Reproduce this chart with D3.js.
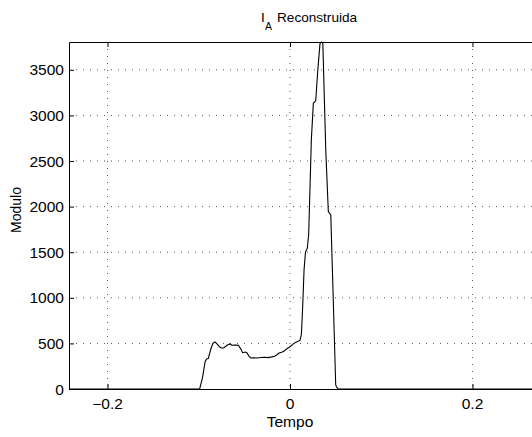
<!DOCTYPE html>
<html>
<head>
<meta charset="utf-8">
<script src="https://cdn.jsdelivr.net/npm/d3@7"></script>
<style>
  body { margin: 0; background: #fff; }
  text { font-family: "Liberation Sans", Arial, Helvetica, sans-serif; fill: #000; }
</style>
</head>
<body>
<script>
// reconstructed current
var tempo = [-0.2422, -0.0990, -0.0960, -0.0930, -0.0915, -0.0895, -0.0870, -0.0845, -0.0823, -0.0800,
    -0.0770, -0.0745, -0.0720, -0.0690, -0.0660, -0.0635, -0.0600, -0.0565, -0.0540, -0.0520,
    -0.0490, -0.0470, -0.0450, -0.0430, -0.0400, -0.0360, -0.0320, -0.0280, -0.0240, -0.0200,
    -0.0170, -0.0146, -0.0120, -0.0090, -0.0060, -0.0030, 0.0000, 0.0030, 0.0055, 0.0085,
    0.0110, 0.0125, 0.0139, 0.0154, 0.0170, 0.0190, 0.0205, 0.0234, 0.0256, 0.0282,
    0.0305, 0.0329, 0.0345, 0.0360, 0.0392, 0.0420, 0.0447, 0.0468, 0.0501, 0.0515,
    0.0530, 0.2729];
var modulo = [0, 0, 120, 300, 330, 335, 430, 500, 516, 495,
    460, 447, 455, 480, 494, 480, 482, 479, 440, 398,
    405, 395, 360, 340, 343, 340, 345, 348, 344, 352,
    360, 373, 395, 403, 420, 445, 464, 490, 508, 520,
    535, 600, 900, 1306, 1500, 1544, 1700, 2732, 3135, 3160,
    3500, 3790, 3805, 3790, 2622, 1946, 1909, 1196, 45, 15,
    0, 0];
var xTicks = [-0.2, 0, 0.2];
var yTicks = [0, 500, 1000, 1500, 2000, 2500, 3000, 3500];

var outerWidth = 532,
    outerHeight = 437,
    margin = {top: 42, left: 69},
    width = 470,
    height = 347,
    sx = 1.11;   // the picture is a bit stretched sideways

var data = tempo.map(function(t, i) { return {t: t, v: modulo[i]}; });

var x = d3.scaleLinear().domain([-0.2422, 0.2729]).range([0, width]);
var y = d3.scaleLinear().domain([0, 3805]).range([height, 0]);

var root = d3.select("body").append("svg")
    .attr("width", outerWidth)
    .attr("height", outerHeight);

var svg = root.append("g")
    .attr("transform", "translate(" + margin.left + "," + margin.top + ")");

// helper for text squeezed like the original
function label(parent, px, py, str, anchor, size, k) {
    return parent.append("text")
        .attr("transform", "translate(" + px + "," + py + ") scale(" + (k || sx) + ",1)")
        .attr("text-anchor", anchor)
        .attr("font-size", size + "px")
        .text(str);
}

// grid
svg.selectAll(".gx").data(xTicks).enter().append("line")
    .attr("x1", function(d) { return x(d); }).attr("x2", function(d) { return x(d); })
    .attr("y1", 0).attr("y2", height)
    .attr("stroke", "#555").attr("stroke-width", 1)
    .attr("stroke-dasharray", "1,6");
svg.selectAll(".gy").data(yTicks.slice(1)).enter().append("line")
    .attr("y1", function(d) { return y(d); }).attr("y2", function(d) { return y(d); })
    .attr("x1", 0).attr("x2", width)
    .attr("stroke", "#555").attr("stroke-width", 1)
    .attr("stroke-dasharray", "1,6");

// axes, ticks inside
var xAxis = d3.axisBottom(x).tickValues(xTicks).tickSizeInner(-5).tickSizeOuter(0).tickFormat("");
var xTop = d3.axisTop(x).tickValues(xTicks).tickSizeInner(-5).tickSizeOuter(0).tickFormat("");
var yAxis = d3.axisLeft(y).tickValues(yTicks).tickSizeInner(-5).tickSizeOuter(0).tickFormat("");

svg.append("g").attr("transform", "translate(0," + height + ")").call(xAxis);
svg.append("g").call(xTop);
svg.append("g").call(yAxis);
svg.selectAll(".domain").attr("stroke", "#000");
svg.selectAll(".tick line").attr("stroke", "#000");

// tick labels
xTicks.forEach(function(d) {
    var s = d === 0 ? "0" : (d < 0 ? "\u2212" + Math.abs(d) : String(d));
    label(svg, x(d), height + 20, s, "middle", 14);
});
yTicks.forEach(function(d) {
    label(svg, -5, y(d) + 5.5, String(d), "end", 14);
});

// the curve
var line = d3.line()
    .x(function(d) { return x(d.t); })
    .y(function(d) { return y(d.v); });

svg.append("path")
    .datum(data)
    .attr("fill", "none")
    .attr("stroke", "#000")
    .attr("stroke-width", 1.1)
    .attr("d", line);

// axis labels
label(root, 290, 427, "Tempo", "middle", 14);
root.append("text")
    .attr("transform", "translate(21,210) rotate(-90) scale(1," + sx + ")")
    .attr("text-anchor", "middle")
    .attr("font-size", "14px")
    .text("Modulo");

// title with subscript
label(root, 261, 21.5, "I", "start", 13.6, 1);
label(root, 265, 30, "A", "start", 10.5, 1);
label(root, 277, 21.5, "Reconstruida", "start", 13.6, 1);
</script>
</body>
</html>
